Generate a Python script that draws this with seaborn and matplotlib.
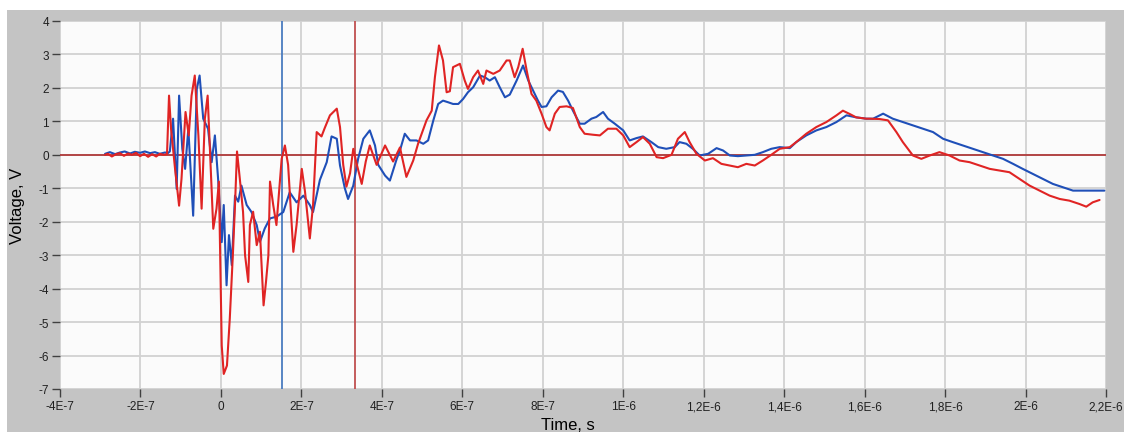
import matplotlib
matplotlib.use("Agg")
import matplotlib.pyplot as plt
import matplotlib.patches as mpatches
import numpy as np
import pandas as pd
import seaborn as sns

# Channel 1 (red) — time in ns, voltage in V
red_t = [-288, -281, -271, -261, -251, -241, -231, -221, -211, -201, -191, -181,
         -171, -161, -152, -142, -134,
         -129, -124, -114, -104, -98, -88, -80, -73, -65, -56, -48, -40, -33, -27,
         -19, -11, -5, 2, 7, 15, 22, 30, 35, 40, 47, 55, 60, 68, 72, 80, 89, 97,
         106, 112, 118, 122, 130, 138, 151, 159, 167, 180, 188, 201, 209, 221,
         229, 238, 250, 258, 271, 288, 296, 304, 312, 321, 329, 338, 350, 360,
         370, 387, 408, 428, 445, 461, 478, 490, 511, 524, 532, 542, 552, 561,
         569, 577, 594, 606, 614, 627, 639, 652, 660, 677, 693, 710, 718, 730,
         739, 750, 760, 772, 784, 797, 809, 817, 830, 842, 859, 875, 892, 904,
         925, 942, 962, 983, 1000, 1016, 1033, 1049, 1066, 1083, 1099, 1120,
         1136, 1153, 1165, 1182, 1203, 1223, 1244, 1265, 1285, 1306, 1327, 1347,
         1368, 1389, 1414, 1430, 1455, 1480, 1505, 1530, 1546, 1563, 1579, 1604,
         1612, 1637, 1658, 1679, 1695, 1720, 1741, 1762, 1786, 1811, 1836, 1861,
         1886, 1911, 1935, 1960, 1985, 2010, 2035, 2060, 2085, 2109, 2134, 2151,
         2167, 2184]
red_v = [0.00, 0.03, -0.05, 0.02, 0.05, -0.03, 0.04, 0.00, 0.06, -0.04, 0.03, -0.06,
         0.02, -0.05, 0.03, 0.00, 0.02,
         1.77, 0.78, -0.42, -1.52, -0.72, 1.28, 0.58, 1.77, 2.37, 0.58, -1.61, 1.08,
         1.77, 0.08, -2.21, -1.61, -0.80, -5.70, -6.55, -6.30, -4.90, -2.90, -1.50,
         0.10, -0.72, -1.71, -3.00, -3.80, -2.10, -1.70, -2.70, -2.30, -4.50, -3.80,
         -3.00, -0.80, -1.50, -2.10, -0.12, 0.28, -0.30, -2.90, -2.10, -0.42, -1.10,
         -2.50, -1.50, 0.68, 0.55, 0.80, 1.18, 1.38, 0.83, -0.30, -0.95, -0.55,
         0.18, -0.30, -0.87, -0.20, 0.28, -0.30, 0.28, -0.20, 0.22, -0.66, -0.17,
         0.33, 1.03, 1.32, 2.33, 3.27, 2.82, 1.87, 1.90, 2.62, 2.72, 2.22, 1.97,
         2.32, 2.52, 2.12, 2.52, 2.42, 2.52, 2.82, 2.82, 2.32, 2.62, 3.17, 2.52,
         1.82, 1.62, 1.23, 0.83, 0.73, 1.23, 1.43, 1.45, 1.40, 0.83, 0.63, 0.60,
         0.58, 0.78, 0.78, 0.58, 0.23, 0.38, 0.53, 0.33, -0.07, -0.10, 0.00, 0.48,
         0.68, 0.38, 0.03, -0.17, -0.10, -0.27, -0.32, -0.37, -0.27, -0.32, -0.17,
         0.00, 0.18, 0.23, 0.38, 0.63, 0.83, 0.98, 1.18, 1.32, 1.22, 1.12, 1.08,
         1.08, 1.07, 1.03, 0.68, 0.38, -0.02, -0.12, -0.02, 0.08, -0.02, -0.17,
         -0.22, -0.32, -0.42, -0.47, -0.52, -0.72, -0.92, -1.07, -1.22, -1.32,
         -1.37, -1.47, -1.55, -1.42, -1.35]

# Channel 2 (blue) — time in ns, voltage in V
blue_t = [-288, -276, -263, -251, -239, -226, -214, -201, -189, -176, -164, -152,
          -139, -132, -127, -119, -110, -104, -96, -89, -81, -69, -60, -53, -44,
          -32, -23, -15, -7, 2, 7, 14, 20, 27, 35, 43, 51, 64, 76, 89, 97, 109,
          122, 138, 155, 171, 188, 205, 221, 229, 246, 263, 275, 288, 296, 308,
          316, 329, 341, 354, 370, 383, 391, 408, 420, 437, 445, 457, 470, 486,
          503, 515, 528, 540, 552, 565, 577, 590, 602, 614, 627, 644, 656, 668,
          681, 693, 706, 718, 735, 751, 764, 776, 788, 797, 809, 822, 838, 850,
          863, 875, 892, 904, 921, 933, 950, 962, 979, 1000, 1016, 1033, 1049,
          1070, 1087, 1107, 1128, 1140, 1157, 1173, 1190, 1211, 1232, 1248, 1265,
          1285, 1306, 1327, 1347, 1368, 1389, 1414, 1430, 1455, 1480, 1505, 1530,
          1555, 1579, 1604, 1621, 1646, 1670, 1695, 1720, 1745, 1770, 1795, 1819,
          1844, 1869, 1894, 1919, 1944, 1969, 1993, 2018, 2043, 2068, 2093, 2118,
          2142, 2167, 2196]
blue_v = [0.03, 0.08, 0.02, 0.07, 0.10, 0.04, 0.09, 0.06, 0.10, 0.05, 0.08, 0.03,
          0.07, 0.05, 0.10, 1.08, -1.02, 1.77, 0.18, -0.42, 0.78, -1.82, 1.97, 2.37,
          1.08, 0.78, -0.22, 0.58, -0.72, -2.61, -1.50, -3.90, -2.40, -3.30, -1.22,
          -1.40, -0.92, -1.50, -1.71, -2.10, -2.60, -2.20, -1.90, -1.85, -1.71,
          -1.12, -1.42, -1.22, -1.50, -1.71, -0.75, -0.22, 0.55, 0.48, -0.32, -1.00,
          -1.32, -0.92, -0.12, 0.48, 0.73, 0.28, -0.30, -0.62, -0.77, -0.12, 0.13,
          0.63, 0.43, 0.43, 0.33, 0.43, 1.03, 1.52, 1.62, 1.57, 1.52, 1.52, 1.67,
          1.87, 2.02, 2.37, 2.32, 2.22, 2.32, 2.02, 1.72, 1.80, 2.22, 2.67, 2.22,
          1.92, 1.62, 1.43, 1.45, 1.72, 1.92, 1.88, 1.62, 1.32, 0.93, 0.93, 1.08,
          1.13, 1.28, 1.08, 0.93, 0.73, 0.43, 0.50, 0.55, 0.38, 0.23, 0.18, 0.23,
          0.38, 0.33, 0.18, -0.02, 0.03, 0.20, 0.13, -0.02, -0.04, -0.02, 0.00,
          0.08, 0.18, 0.23, 0.20, 0.38, 0.58, 0.73, 0.83, 0.98, 1.18, 1.12, 1.08,
          1.08, 1.23, 1.08, 0.98, 0.88, 0.78, 0.68, 0.48, 0.38, 0.28, 0.18, 0.08,
          -0.02, -0.12, -0.27, -0.42, -0.57, -0.72, -0.87, -0.97, -1.07, -1.07,
          -1.07, -1.07]

# Cursor positions (ns)
cursor_blue_ns = 152
cursor_red_ns = 333

x_ticks_ns = [-400, -200, 0, 200, 400, 600, 800, 1000, 1200, 1400, 1600, 1800, 2000, 2200]
x_tick_labels = ["-4E-7", "-2E-7", "0", "2E-7", "4E-7", "6E-7", "8E-7", "1E-6",
                 "1,2E-6", "1,4E-6", "1,6E-6", "1,8E-6", "2E-6", "2,2E-6"]
y_ticks = [-7, -6, -5, -4, -3, -2, -1, 0, 1, 2, 3, 4]

sns.set_theme(style="white")
plt.rcParams["font.family"] = ["Liberation Sans", "DejaVu Sans"]

df = pd.concat([
    pd.DataFrame({"t": np.array(red_t) * 1e-9, "v": red_v, "ch": "red"}),
    pd.DataFrame({"t": np.array(blue_t) * 1e-9, "v": blue_v, "ch": "blue"}),
], ignore_index=True)

W, H = 1124, 435
fig = plt.figure(figsize=(W / 100, H / 100), dpi=100, facecolor="white")
# grey instrument panel behind the graph
panel = mpatches.Rectangle((7 / W, 2 / H), (W - 7) / W, (433 - 11) / H,
                           transform=fig.transFigure, facecolor="#c4c4c4",
                           edgecolor="none", zorder=-10)
fig.add_artist(panel)

ax = fig.add_axes([60 / W, (H - 390) / H, (1106 - 60) / W, (390 - 22) / H])
ax.set_zorder(1)
ax.set_facecolor("#fbfbfb")

ax.axhline(0, color="#b03a3a", lw=1.3, zorder=2)
ax.axvline(cursor_blue_ns * 1e-9, color="#4a7cc0", lw=1.3, zorder=2)
ax.axvline(cursor_red_ns * 1e-9, color="#c05050", lw=1.3, zorder=2)

sns.lineplot(data=df, x="t", y="v", hue="ch", units="ch", estimator=None, sort=False,
             palette={"red": "#e02424", "blue": "#1f4fb8"}, hue_order=["blue", "red"],
             lw=1.5, legend=False, ax=ax, zorder=3)

ax.set_xlim(-4e-7, 2.2e-6)
ax.set_ylim(-7, 4)
ax.set_xticks(np.array(x_ticks_ns) * 1e-9)
ax.set_xticklabels(x_tick_labels)
ax.set_yticks(y_ticks)
ax.set_yticklabels([str(v) for v in y_ticks])
ax.grid(True, color="#d2d2d2", lw=1.3)
ax.set_axisbelow(True)
for s in ax.spines.values():
    s.set_visible(False)
ax.tick_params(axis="both", which="major", direction="out", length=6, width=1,
               color="#404040", labelsize=8.5, labelcolor="#202020", pad=2,
               bottom=True, left=True)

ax.set_xlabel("Time, s", fontsize=12, color="black")
ax.set_ylabel("Voltage, V", fontsize=12, color="black")
ax.xaxis.set_label_coords((568 - 60) / (1106 - 60), -(426 - 390) / (390 - 22))
ax.xaxis.label.set_va("center")
ax.yaxis.set_label_coords(-(60 - 18) / (1106 - 60), 0.5)
ax.yaxis.label.set_va("center")

fig.savefig("out.png", dpi=100, facecolor="white")
